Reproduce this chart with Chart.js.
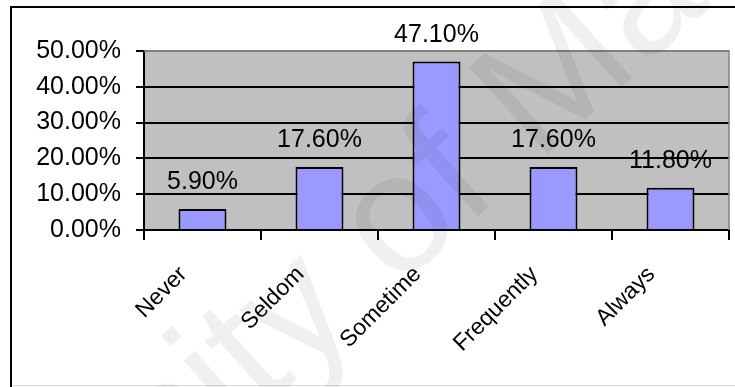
<!DOCTYPE html>
<html>
<head>
<meta charset="utf-8">
<script src="https://cdn.jsdelivr.net/npm/chart.js@4.4.1/dist/chart.umd.min.js"></script>
<style>
  html, body { margin: 0; padding: 0; background: #fff; }
  #wrap { width: 735px; height: 387px; position: relative; }
</style>
</head>
<body>
<div id="wrap"><canvas id="c"></canvas></div>
<script>
const categories = ["Never", "Seldom", "Sometime", "Frequently", "Always"];
const percents = [5.9, 17.6, 47.1, 17.6, 11.8];
const yTicks = [0, 10, 20, 30, 40, 50];

const FONT = "'Liberation Sans', Arial, sans-serif";

/* frame + grey plot area */
const plotBg = {
  id: "plotBg",
  beforeDraw(chart) {
    const { ctx, chartArea: a } = chart;
    ctx.save();
    ctx.strokeStyle = "#000";
    ctx.lineWidth = 2;
    ctx.beginPath();
    ctx.moveTo(11, 400);
    ctx.lineTo(11, 7);
    ctx.lineTo(745, 7);
    ctx.stroke();
    ctx.strokeStyle = "#dcdcdc";
    ctx.lineWidth = 1;
    ctx.beginPath();
    ctx.moveTo(12, 385.5);
    ctx.lineTo(735, 385.5);
    ctx.stroke();
    ctx.fillStyle = "#c0c0c0";
    ctx.fillRect(a.left, a.top, a.right - a.left, a.bottom - a.top);
    ctx.restore();
  },
  beforeDatasetsDraw(chart) {
    const { ctx, chartArea: a } = chart;
    ctx.save();
    ctx.strokeStyle = "#808080";
    ctx.lineWidth = 1.5;
    ctx.beginPath();
    ctx.moveTo(a.left, a.top);
    ctx.lineTo(a.right, a.top);
    ctx.lineTo(a.right, a.bottom);
    ctx.stroke();
    ctx.restore();
  }
};

/* value labels above bars */
const barLabels = {
  id: "barLabels",
  afterDatasetsDraw(chart) {
    const { ctx } = chart;
    const meta = chart.getDatasetMeta(0);
    ctx.save();
    ctx.fillStyle = "#000";
    ctx.font = "25px " + FONT;
    ctx.textAlign = "center";
    ctx.textBaseline = "middle";
    meta.data.forEach((bar, i) => {
      ctx.fillText(percents[i].toFixed(2) + "%", bar.x, bar.y - 26.5);
    });
    ctx.restore();
  }
};

/* faint watermark */
const watermark = {
  id: "watermark",
  afterDraw(chart) {
    const { ctx } = chart;
    ctx.save();
    ctx.font = "170px " + FONT;
    ctx.fillStyle = "rgba(0,0,0,0.06)";
    ctx.textBaseline = "alphabetic";
    ctx.translate(235, 435);
    ctx.rotate(-42 * Math.PI / 180);
    const lead = ctx.measureText("Univers").width;
    ctx.fillText("University of Malaya", -lead, 0);
    ctx.restore();
  }
};

new Chart(document.getElementById("c"), {
  type: "bar",
  data: {
    labels: categories,
    datasets: [{
      data: percents,
      backgroundColor: "#9999ff",
      borderColor: "#000",
      borderWidth: 2,
      barPercentage: 0.41,
      categoryPercentage: 1
    }]
  },
  options: {
    responsive: true,
    maintainAspectRatio: false,
    animation: false,
    layout: { padding: { top: 51, right: 6, left: 0, bottom: 0 } },
    plugins: { legend: { display: false }, tooltip: { enabled: false } },
    scales: {
      x: {
        grid: { offset: true, drawOnChartArea: false, drawTicks: true, tickLength: 10, color: "#000", lineWidth: 2 },
        border: { color: "#000", width: 2 },
        ticks: {
          color: "#000",
          font: { family: FONT, size: 23 },
          minRotation: 45, maxRotation: 45,
          autoSkip: false,
          padding: 21,
          labelOffset: -19
        },
        afterFit(s) { s.height = 387 - 230; }
      },
      y: {
        min: 0, max: 50,
        afterBuildTicks(s) { s.ticks = yTicks.map(v => ({ value: v })); },
        ticks: {
          color: "#000",
          font: { family: FONT, size: 25 },
          padding: 15,
          callback: v => v.toFixed(2) + "%"
        },
        grid: {
          color: c => (c.tick && c.tick.value === 50 ? "#808080" : "#000"),
          tickColor: "#000",
          lineWidth: 2,
          tickLength: 8
        },
        border: { color: "#000", width: 2 },
        afterFit(s) { s.width = 144; }
      }
    }
  },
  plugins: [plotBg, barLabels, watermark]
});
</script>
</body>
</html>
